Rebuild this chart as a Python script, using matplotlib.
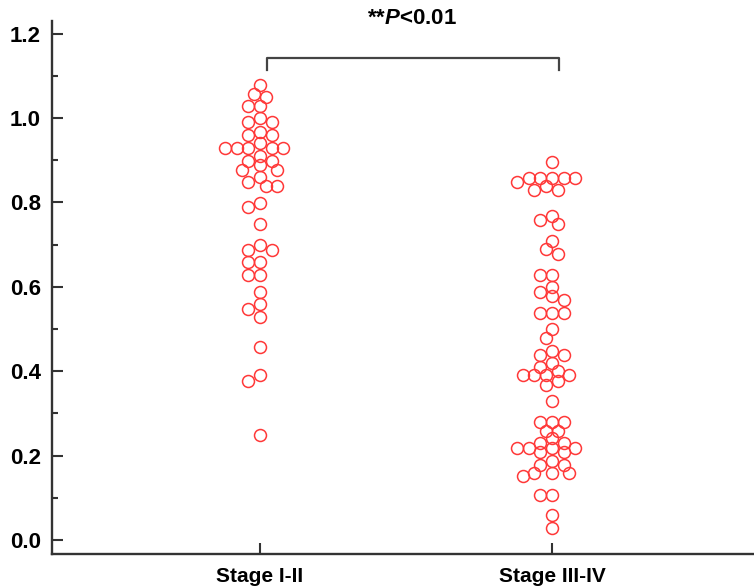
import numpy as np
import matplotlib
matplotlib.use("Agg")
import matplotlib.pyplot as plt
from matplotlib.ticker import MultipleLocator, FormatStrFormatter

plt.rcParams["font.family"] = ["Liberation Sans", "DejaVu Sans"]
plt.rcParams["mathtext.fontset"] = "custom"
plt.rcParams["mathtext.it"] = "Liberation Sans:italic:bold"
plt.rcParams["mathtext.rm"] = "Liberation Sans:bold"

groups = ["Stage I-II", "Stage III-IV"]

stage_12 = [1.079, 1.058, 1.049, 1.028, 1.028, 0.999, 0.990, 0.990, 0.968,
            0.959, 0.959, 0.940, 0.929, 0.929, 0.929, 0.929, 0.929, 0.910,
            0.899, 0.899, 0.888, 0.878, 0.878, 0.860, 0.849, 0.840, 0.840,
            0.798, 0.789, 0.750, 0.699, 0.688, 0.688, 0.659, 0.659, 0.627,
            0.627, 0.589, 0.560, 0.547, 0.528, 0.458, 0.390, 0.378, 0.249]

stage_34 = [0.896, 0.858, 0.858, 0.858, 0.858, 0.858, 0.848, 0.839, 0.829,
            0.829, 0.769, 0.758, 0.748, 0.708, 0.689, 0.679, 0.627, 0.627,
            0.600, 0.589, 0.578, 0.568, 0.538, 0.538, 0.538, 0.501, 0.480,
            0.448, 0.439, 0.439, 0.419, 0.409, 0.401, 0.390, 0.390, 0.390,
            0.390, 0.377, 0.367, 0.329, 0.279, 0.279, 0.279, 0.259, 0.259,
            0.241, 0.230, 0.230, 0.219, 0.219, 0.219, 0.219, 0.208, 0.208,
            0.188, 0.178, 0.178, 0.159, 0.159, 0.159, 0.151, 0.107, 0.107,
            0.059, 0.028]

p_text = r"**$P$<0.01"


def swarm_x(ax, xc, vals, step_px=5.85, min_px=9.0):
    """Beeswarm-style x positions, laid out in pixel space on a half-marker grid."""
    vals = np.asarray(vals, float)
    pix = ax.transData.transform(np.column_stack([np.full(vals.size, xc), vals]))
    x0, ypix = pix[0, 0], pix[:, 1]
    cands = [0]
    for k in range(1, 30):
        cands += [-k, k]
    placed = []
    xpix = np.empty(vals.size)
    for i in np.argsort(-vals, kind="stable"):
        for k in cands:
            dx = k * step_px
            if all((dx - px) ** 2 + (ypix[i] - py) ** 2 >= min_px ** 2 for px, py in placed):
                break
        placed.append((dx, ypix[i]))
        xpix[i] = x0 + dx
    return ax.transData.inverted().transform(np.column_stack([xpix, ypix]))[:, 0]


fig = plt.figure(figsize=(7.54, 5.87), dpi=100)
ax = fig.add_axes([52 / 754, 33 / 587, 1 - 52 / 754, (554 - 21) / 587])
ax.set_xlim(-0.712, 1.692)
ax.set_ylim(-0.033, 1.23)

for i, vals in enumerate([stage_12, stage_34]):
    xs = swarm_x(ax, i, vals)
    ax.plot(xs, vals, "o", ls="none", mfc="none", mec="#ff3838", ms=8.6, mew=1.1,
            clip_on=False)

# significance bracket
ax.plot([0.024, 0.024, 1.024, 1.024], [1.115, 1.143, 1.143, 1.115],
        color="#444444", lw=1.6, clip_on=False)
ax.text(0.522, 1.236, p_text, ha="center", va="center", fontsize=16,
        fontweight="bold", clip_on=False)

for side in ("top", "right"):
    ax.spines[side].set_visible(False)
for side in ("left", "bottom"):
    ax.spines[side].set_linewidth(1.7)
    ax.spines[side].set_color("#333333")

ax.set_xticks([0, 1])
ax.set_xticklabels(groups)
ax.yaxis.set_major_locator(MultipleLocator(0.2))
ax.yaxis.set_minor_locator(MultipleLocator(0.1))
ax.yaxis.set_major_formatter(FormatStrFormatter("%.1f"))
ax.tick_params(axis="y", which="major", direction="in", length=8, width=1.5,
               color="#333333", pad=8, labelsize=16)
ax.tick_params(axis="y", which="minor", direction="in", length=4.5, width=1.5,
               color="#333333")
ax.tick_params(axis="x", which="major", direction="in", length=8, width=1.5,
               color="#333333", pad=9, labelsize=15)
for lab in ax.get_xticklabels() + ax.get_yticklabels():
    lab.set_fontweight("bold")

fig.savefig("out.png", dpi=100)
